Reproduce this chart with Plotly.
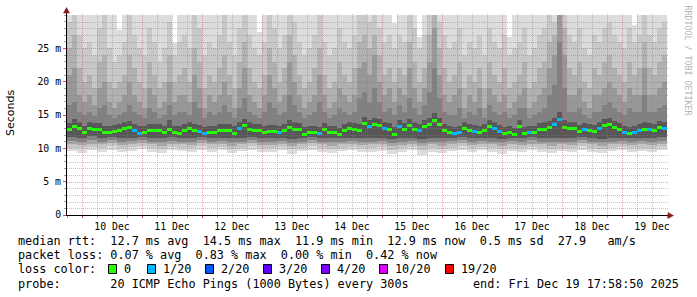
import numpy as np
import pandas as pd
import plotly.graph_objects as go

# ---------------- data ----------------
start_time = "2025-12-09 17:58:50"
end_time = "2025-12-19 17:58:50"

# median rtt per 2h step (ms)
median_ms = [
    12.75, 13.3, 12.9, 12.4, 13.0, 12.8, 12.75, 12.3, 12.4, 12.5,
    12.6, 13.0, 13.1, 12.6, 12.2, 12.4, 12.6, 12.7, 12.6, 12.3,
    12.8, 12.4, 12.25, 12.6, 12.9, 12.65, 12.5, 12.2, 12.4, 12.4,
    12.6, 12.65, 12.6, 12.25, 12.9, 13.4, 12.85, 12.65, 12.6, 12.4,
    12.45, 12.45, 12.3, 12.7, 13.15, 12.85, 12.8, 12.1, 12.35, 12.3,
    12.2, 12.75, 12.35, 12.3, 12.0, 12.65, 12.9, 12.8, 12.6, 13.7,
    13.2, 13.6, 13.4, 12.9, 12.75, 12.1, 13.3, 12.75, 13.35, 12.85,
    12.6, 13.25, 13.6, 14.2, 13.5, 12.6, 12.4, 12.15, 12.3, 13.0,
    12.65, 12.45, 12.4, 12.6, 13.25, 13.0, 12.5, 12.2, 12.3, 12.0,
    13.2, 12.15, 12.4, 12.3, 12.75, 12.85, 13.1, 13.6, 14.3, 13.1,
    12.9, 13.0, 12.5, 12.8, 12.65, 12.5, 13.0, 13.4, 13.5, 13.1,
    12.75, 12.4, 12.15, 12.4, 12.6, 12.85, 12.8, 12.6, 13.05, 13.0]

# lost pings out of 20 per step
loss_of_20 = [
    0, 0, 0, 0, 0, 0, 0, 0, 0, 0,
    0, 0, 0, 1, 1, 0, 0, 0, 0, 0,
    0, 0, 0, 0, 0, 0, 1, 1, 0, 0,
    0, 0, 0, 0, 1, 0, 0, 0, 0, 0,
    0, 0, 1, 0, 0, 0, 0, 0, 0, 0,
    1, 0, 0, 0, 0, 0, 0, 0, 0, 0,
    1, 0, 0, 1, 0, 0, 1, 0, 0, 0,
    1, 0, 0, 0, 0, 0, 0, 1, 1, 0,
    0, 1, 0, 0, 0, 1, 1, 0, 0, 0,
    0, 0, 1, 0, 0, 0, 0, 1, 1, 0,
    0, 0, 0, 1, 0, 0, 1, 0, 0, 0,
    0, 1, 0, 1, 1, 0, 1, 0, 0, 1]

# smoke: upper ping levels per 2h step (outermost = max)
max_ms = [
    30.5, 30.5, 30.5, 30.5, 30.5, 30.5, 30.5, 30.5, 30.5, 30.5,
    27.7, 30.5, 30.5, 30.5, 30.5, 30.5, 30.5, 30.5, 30.5, 30.5,
    30.5, 25.8, 30.5, 30.5, 30.5, 30.5, 30.5, 30.5, 30.5, 30.5,
    30.5, 30.5, 30.5, 30.5, 30.5, 30.5, 30.5, 30.5, 27.5, 30.5,
    30.5, 30.5, 30.5, 30.5, 30.5, 30.5, 30.5, 30.5, 30.5, 30.5,
    30.5, 30.5, 30.5, 30.5, 30.5, 30.5, 30.5, 30.5, 30.5, 30.5,
    30.5, 30.5, 30.5, 30.5, 30.5, 28.8, 30.5, 30.5, 30.5, 30.5,
    26.7, 30.5, 30.5, 30.5, 30.5, 30.5, 30.5, 30.5, 30.5, 30.5,
    30.5, 30.5, 30.5, 30.5, 30.5, 30.5, 30.5, 30.5, 26.7, 30.5,
    30.5, 30.5, 30.5, 30.5, 30.5, 30.5, 30.5, 30.5, 30.5, 30.5,
    30.5, 30.5, 30.5, 30.5, 30.5, 30.5, 30.5, 30.5, 30.5, 30.5,
    30.5, 30.5, 30.5, 28.5, 30.5, 30.5, 30.5, 30.5, 30.5, 30.5]

upper2_ms = [
    29, 30.5, 27, 25, 26, 24, 28, 30.5, 25, 23, 24, 26,
    30.5, 27, 25, 24, 28, 26, 23, 25, 29, 24, 26, 27,
    25, 30.5, 28, 24, 26, 25, 27, 30.5, 26, 24, 28, 30.5,
    27, 25, 24, 26, 30.5, 28, 25, 27, 30.5, 29, 26, 24,
    25, 27, 30.5, 26, 24, 25, 28, 26, 25, 27, 30.5, 30.5,
    29, 30.5, 28, 26, 27, 25, 27, 26, 30.5, 28, 25, 27,
    30.5, 30.5, 29, 27, 25, 26, 28, 24, 26, 25, 27, 24,
    28, 26, 25, 27, 24, 25, 26, 28, 24, 25, 27, 28,
    30.5, 29, 30.5, 30.5, 27, 26, 28, 25, 24, 27, 26, 28,
    29, 27, 26, 25, 28, 26, 27, 30.5, 27, 26, 28, 29]

upper3_ms = [
    25, 27, 22, 20, 21, 19, 23, 24, 20, 19, 20, 21,
    24, 22, 20, 19, 23, 21, 19, 20, 24, 20, 21, 22,
    20, 25, 23, 19, 21, 20, 22, 24, 21, 19, 23, 26,
    22, 20, 19, 21, 25, 23, 20, 22, 27, 24, 21, 19,
    20, 22, 25, 21, 19, 20, 23, 21, 20, 22, 26, 27,
    25, 27, 24, 21, 22, 20, 22, 21, 26, 23, 20, 22,
    27, 30.5, 25, 22, 20, 21, 23, 19, 21, 20, 22, 19,
    23, 21, 20, 22, 19, 20, 21, 23, 19, 20, 22, 23,
    26, 27, 30.5, 28, 22, 21, 23, 20, 19, 22, 21, 23,
    24, 22, 21, 20, 23, 21, 22, 26, 22, 21, 23, 24]

upper4_ms = [
    21, 22, 18, 17, 18, 16.5, 19, 20, 17, 16, 17, 18,
    20, 18, 17, 16, 19, 18, 16, 17, 20, 17, 18, 18,
    17, 21, 19, 16, 18, 17, 18, 20, 18, 16, 19, 22,
    18, 17, 16, 18, 21, 19, 17, 18, 23, 20, 18, 16,
    17, 18, 21, 18, 16, 17, 19, 18, 17, 18, 22, 23,
    21, 24, 20, 18, 19, 17, 19, 18, 22, 19, 17, 19,
    23, 28, 21, 18, 17, 18, 19, 16, 18, 17, 19, 16,
    19, 18, 17, 18, 16, 17, 18, 19, 16, 17, 18, 19,
    22, 24, 30.5, 24, 18, 18, 19, 17, 16, 18, 18, 19,
    20, 19, 18, 17, 19, 18, 18, 22, 18, 18, 19, 20]

upper5_ms = [
    16.5, 17, 15.5, 15, 15.5, 14.8, 16, 16.5, 15, 14.5, 15, 15.5,
    16.5, 15.5, 15, 14.5, 16, 15.5, 14.5, 15, 16.5, 15, 15.5, 15.5,
    15, 17, 16, 14.5, 15.5, 15, 15.5, 16.5, 15.5, 14.5, 16, 17.5,
    15.5, 15, 14.5, 15.5, 17, 16, 15, 15.5, 18, 16.5, 15.5, 14.5,
    15, 15.5, 17, 15.5, 14.5, 15, 16, 15.5, 15, 15.5, 17.5, 18.5,
    17, 19, 17, 15.5, 16, 15, 16.5, 15.5, 17.5, 16, 15, 16.5,
    18.5, 22, 17.5, 15.5, 15, 15, 16, 14.5, 15.5, 15, 16, 14.5,
    16.5, 15.5, 15, 15.5, 14.5, 15, 16, 16, 14.5, 15, 15.5, 16,
    18, 19.5, 26, 19, 15.5, 15.5, 16, 15, 14.5, 15.5, 15.5, 16.5,
    17, 16, 15.5, 15, 16, 15.5, 15.5, 18, 15.5, 15.5, 16, 16.5]

upper6_ms = [
    13.8, 14.4, 13.9, 13.4, 14.0, 13.8, 13.8, 13.3, 13.4, 13.5,
    13.6, 14.0, 14.1, 13.6, 13.3, 13.4, 13.6, 13.7, 13.6, 13.4,
    14.2, 13.4, 13.3, 13.6, 13.9, 13.7, 13.5, 13.2, 13.4, 13.4,
    13.6, 13.7, 13.6, 13.3, 13.9, 14.4, 13.9, 13.7, 13.6, 13.4,
    13.5, 13.5, 13.3, 13.7, 14.2, 13.9, 13.8, 13.2, 13.4, 13.3,
    13.2, 13.8, 13.4, 13.3, 13.0, 13.7, 13.9, 13.8, 13.6, 14.7,
    14.2, 14.6, 14.4, 13.9, 13.8, 13.2, 14.3, 13.8, 14.4, 13.9,
    13.6, 14.3, 14.6, 15.3, 14.5, 13.6, 13.4, 13.2, 13.3, 14.0,
    13.7, 13.5, 13.4, 13.6, 14.3, 14.0, 13.5, 13.2, 13.3, 13.0,
    14.2, 13.2, 13.4, 13.3, 13.8, 13.9, 14.1, 14.6, 15.5, 14.2,
    13.9, 14.0, 13.5, 13.8, 13.7, 13.5, 14.0, 14.4, 14.5, 14.1,
    13.8, 13.4, 13.2, 13.4, 13.6, 13.9, 13.8, 13.6, 14.1, 14.0]

# smoke: lower ping levels per 4h step (outermost = min)
min_ms = [
    9.6, 9.3, 9.7, 9.5, 9.8, 9.4, 9.6, 9.9, 9.5, 9.3,
    9.7, 9.6, 9.4, 9.8, 9.5, 9.7, 9.3, 9.6, 9.8, 9.5,
    9.4, 9.7, 9.2, 9.6, 9.8, 9.5, 9.3, 9.6, 9.7, 9.4,
    9.5, 9.6, 9.2, 9.4, 9.7, 9.0, 9.5, 9.3, 9.6, 9.8,
    9.4, 9.7, 9.5, 9.2, 9.6, 9.4, 9.7, 9.5, 9.3, 9.6,
    9.4, 9.8, 9.5, 9.3, 9.6, 9.7, 9.4, 9.6, 9.5, 9.7]
lower2_ms = [
    10.1, 10.0, 10.2, 10.1, 10.3, 10.0, 10.2, 10.3, 10.1, 9.9,
    10.2, 10.1, 10.0, 10.3, 10.1, 10.2, 9.9, 10.1, 10.3, 10.0,
    10.0, 10.2, 9.9, 10.1, 10.3, 10.1, 9.9, 10.1, 10.2, 10.0,
    10.1, 10.2, 9.8, 10.0, 10.2, 9.8, 10.1, 9.9, 10.1, 10.3,
    10.0, 10.2, 10.1, 9.9, 10.1, 10.0, 10.2, 10.1, 9.9, 10.1,
    10.0, 10.3, 10.1, 9.9, 10.1, 10.2, 10.0, 10.1, 10.0, 10.2]
lower3_ms = [
    10.6, 10.5, 10.7, 10.6, 10.8, 10.5, 10.7, 10.8, 10.6, 10.4,
    10.7, 10.6, 10.5, 10.8, 10.6, 10.7, 10.4, 10.6, 10.8, 10.5,
    10.5, 10.7, 10.4, 10.6, 10.8, 10.6, 10.4, 10.6, 10.7, 10.5,
    10.6, 10.7, 10.3, 10.5, 10.7, 10.3, 10.6, 10.4, 10.6, 10.8,
    10.5, 10.7, 10.6, 10.4, 10.6, 10.5, 10.7, 10.6, 10.4, 10.6,
    10.5, 10.8, 10.6, 10.4, 10.6, 10.7, 10.5, 10.6, 10.5, 10.7]
lower4_ms = [
    11.1, 11.0, 11.2, 11.0, 11.2, 10.9, 11.1, 11.2, 11.0, 10.9,
    11.1, 11.0, 11.0, 11.2, 11.0, 11.1, 10.9, 11.0, 11.2, 11.0,
    10.9, 11.1, 10.8, 11.0, 11.2, 11.0, 10.9, 11.0, 11.1, 11.0,
    11.0, 11.1, 10.8, 10.9, 11.1, 10.8, 11.0, 10.9, 11.1, 11.2,
    11.0, 11.1, 11.0, 10.9, 11.1, 11.0, 11.2, 11.0, 10.9, 11.0,
    11.0, 11.2, 11.0, 10.9, 11.0, 11.1, 11.0, 11.1, 11.0, 11.1]
lower5_ms = [
    11.7, 11.6, 11.8, 11.5, 11.7, 11.5, 11.6, 11.7, 11.5, 11.5,
    11.7, 11.6, 11.6, 11.7, 11.6, 11.6, 11.5, 11.6, 11.7, 11.5,
    11.5, 11.6, 11.4, 11.5, 11.7, 11.6, 11.5, 11.6, 11.6, 11.5,
    11.6, 11.6, 11.4, 11.5, 11.6, 11.4, 11.5, 11.5, 11.6, 11.7,
    11.5, 11.6, 11.6, 11.4, 11.6, 11.5, 11.7, 11.6, 11.5, 11.6,
    11.5, 11.7, 11.5, 11.4, 11.5, 11.6, 11.5, 11.6, 11.5, 11.7]

y_tick_vals = [0, 5, 10, 15, 20, 25]
y_tick_text = ["0", "5 m", "10 m", "15 m", "20 m", "25 m"]

loss_legend_labels = ["0", "1/20", "2/20", "3/20", "4/20", "10/20", "19/20"]
loss_legend_counts = [0, 1, 2, 3, 4, 10, 19]
loss_legend_colors = ["#26ff00", "#00b8ff", "#0059ff", "#5e00ff", "#7e00ff", "#dd00ff", "#ff0000"]

stat_line_rtt = "median rtt:  12.7 ms avg  14.5 ms max  11.9 ms min  12.9 ms now  0.5 ms sd  27.9   am/s"
stat_line_loss = "packet loss: 0.07 % avg  0.83 % max  0.00 % min  0.42 % now"
probe_line = "probe:       20 ICMP Echo Pings (1000 Bytes) every 300s"
end_line = "end: Fri Dec 19 17:58:50 2025"
watermark = "RRDTOOL / TOBI OETIKER"

# ---------------- styles ----------------
upper_colors = ["#dcdcdc", "#c8c8c8", "#b1b1b1", "#989898", "#818181", "#575757"]
lower_colors = ["#dcdcdc", "#c4c4c4", "#a6a6a6", "#828282", "#575757"]
W, H = 697, 297
ML, MR, MT, MB = 67, 30, 15, 82
PW, PH = W - ML - MR, H - MT - MB
MONO = "DejaVu Sans Mono"


def px(xp):
    return (xp - ML) / PW


def py(yp):
    return (H - MB - yp) / PH


for arr in [median_ms, loss_of_20, max_ms, upper2_ms, upper3_ms, upper4_ms, upper5_ms, upper6_ms]:
    assert len(arr) == 120, len(arr)
for arr in [min_ms, lower2_ms, lower3_ms, lower4_ms, lower5_ms]:
    assert len(arr) == 60, len(arr)

t0 = pd.Timestamp(start_time)
t1 = pd.Timestamp(end_time)
med = np.array(median_ms)
n_up = len(med)
step_up = (t1 - t0) / n_up
x_up = [t0 + step_up * (i + 0.5) for i in range(n_up)]
w_up = step_up.total_seconds() * 1000

n_lo = len(min_ms)
step_lo = (t1 - t0) / n_lo
x_lo = [t0 + step_lo * (i + 0.5) for i in range(n_lo)]
w_lo = step_lo.total_seconds() * 1000
top_lo = med.reshape(n_lo, -1).max(axis=1)

fig = go.Figure()

lower_levels = [min_ms, lower2_ms, lower3_ms, lower4_ms, lower5_ms]
for lv, col in zip(lower_levels, lower_colors):
    lv = np.array(lv)
    fig.add_trace(go.Bar(x=x_lo, base=lv, y=np.clip(top_lo - lv, 0, None), width=w_lo,
                         marker=dict(color=col, line=dict(width=0)), hoverinfo="skip",
                         showlegend=False))

upper_levels = [max_ms, upper2_ms, upper3_ms, upper4_ms, upper5_ms, upper6_ms]
for lv, col in zip(upper_levels, upper_colors):
    lv = np.array(lv)
    fig.add_trace(go.Bar(x=x_up, base=med, y=np.clip(lv - med, 0, None), width=w_up,
                         marker=dict(color=col, line=dict(width=0)), hoverinfo="skip",
                         showlegend=False))

loss_color_map = dict(zip(loss_legend_counts, loss_legend_colors))
med_cols = [loss_color_map.get(l, "#26ff00") for l in loss_of_20]
fig.add_trace(go.Bar(x=x_up, base=med - 0.22, y=[0.45] * n_up, width=w_up,
                     marker=dict(color=med_cols, line=dict(width=0)), hoverinfo="skip",
                     showlegend=False))

# ---------------- grid (drawn above the smoke, like rrdtool) ----------------
minor_path, major_path = "", ""
for v in range(1, 30):
    yp = round(H - MB - v * PH / 30.0) + 0.5
    seg = f"M {px(ML)} {py(yp)} L {px(ML + PW + 1)} {py(yp)} "
    if v % 5 == 0:
        major_path += seg
    else:
        minor_path += seg
t = pd.Timestamp("2025-12-10 00:00:00")
while t < t1:
    xp = round(ML + (t - t0) / (t1 - t0) * PW) + 0.5
    seg = f"M {px(xp)} {py(H - MB)} L {px(xp)} {py(MT - 1)} "
    if t.hour == 0:
        major_path += seg
    else:
        minor_path += seg
    t += pd.Timedelta(hours=6)

shapes = [
    dict(type="path", path=minor_path, xref="paper", yref="paper", layer="above",
         line=dict(color="rgba(130,130,130,0.47)", width=1, dash="1px,1px")),
    dict(type="path", path=major_path, xref="paper", yref="paper", layer="above",
         line=dict(color="rgba(225,70,70,0.48)", width=1, dash="1px,1px")),
    # axis lines
    dict(type="line", xref="paper", yref="paper", x0=px(66), x1=px(670), y0=py(215.5), y1=py(215.5),
         line=dict(color="#000000", width=1), layer="above"),
    dict(type="line", xref="paper", yref="paper", x0=px(66.5), x1=px(66.5), y0=py(216), y1=py(11),
         line=dict(color="#000000", width=1), layer="above"),
    # arrows
    dict(type="path", xref="paper", yref="paper", layer="above",
         path=f"M {px(668)} {py(212.5)} L {px(673.5)} {py(215.5)} L {px(668)} {py(218.5)} Z",
         fillcolor="#8b1a1a", line=dict(color="#8b1a1a", width=0.5)),
    dict(type="path", xref="paper", yref="paper", layer="above",
         path=f"M {px(63.5)} {py(13)} L {px(66.5)} {py(7.5)} L {px(69.5)} {py(13)} Z",
         fillcolor="#8b1a1a", line=dict(color="#8b1a1a", width=0.5)),
]

NB = "\u00a0"
annotations = []


def text(s, xp, yp, size=11.8, anchor="left", color="#000000", family=MONO, angle=0):
    annotations.append(dict(text=s.replace(" ", NB), x=px(xp), y=py(yp), xref="paper", yref="paper",
                            xanchor=anchor, yanchor="middle", showarrow=False, textangle=angle,
                            font=dict(family=family, size=size, color=color)))


text(stat_line_rtt, 16, 241)
text(stat_line_loss, 16, 255)
text("loss color:", 16, 269)
text(probe_line, 16, 284)
text(end_line, 681, 284, anchor="right")
text(watermark, 687.5, 60, size=8.3, anchor="center", color="#b4b4b4", angle=90)
text("Seconds", 10, 113, size=11, anchor="center", family="DejaVu Sans", angle=-90)

sq_x = [108, 147, 205, 263, 321, 379, 445]
lab_x = [122, 161, 219, 277, 335, 393, 459]
for sx, lx, lab, col in zip(sq_x, lab_x, loss_legend_labels, loss_legend_colors):
    shapes.append(dict(type="rect", xref="paper", yref="paper", x0=px(sx + 0.5), x1=px(sx + 8.5),
                       y0=py(264.5), y1=py(273.5), fillcolor=col, line=dict(color="#000000", width=1)))
    text(lab, lx, 269)

fig.update_layout(
    width=W, height=H, margin=dict(l=ML, r=MR, t=MT, b=MB, pad=0),
    paper_bgcolor="white", plot_bgcolor="white",
    barmode="overlay", bargap=0, showlegend=False,
    shapes=shapes, annotations=annotations,
    xaxis=dict(type="date", range=[t0, t1], showgrid=False, zeroline=False, showline=False,
               tick0="2025-12-10", dtick=86400000, ticklabelmode="period", tickformat="%d %b",
               ticks="outside", ticklen=2, tickcolor="#e05050", tickwidth=1,
               tickfont=dict(family=MONO, size=9.8, color="#000000"),
               minor=dict(dtick=6 * 3600 * 1000, tick0="2025-12-10", ticks="outside", ticklen=2,
                          tickcolor="#a0a0a0", showgrid=False)),
    yaxis=dict(range=[0, 30], showgrid=False, zeroline=False, showline=False,
               tickvals=y_tick_vals, ticktext=y_tick_text, ticks="outside", ticklen=3,
               tickcolor="#e05050", tickfont=dict(family=MONO, size=9.8, color="#000000"),
               minor=dict(dtick=1, ticks="outside", ticklen=2, tickcolor="#a0a0a0", showgrid=False)),
)

fig.write_html("out.html", config={"displayModeBar": False})
